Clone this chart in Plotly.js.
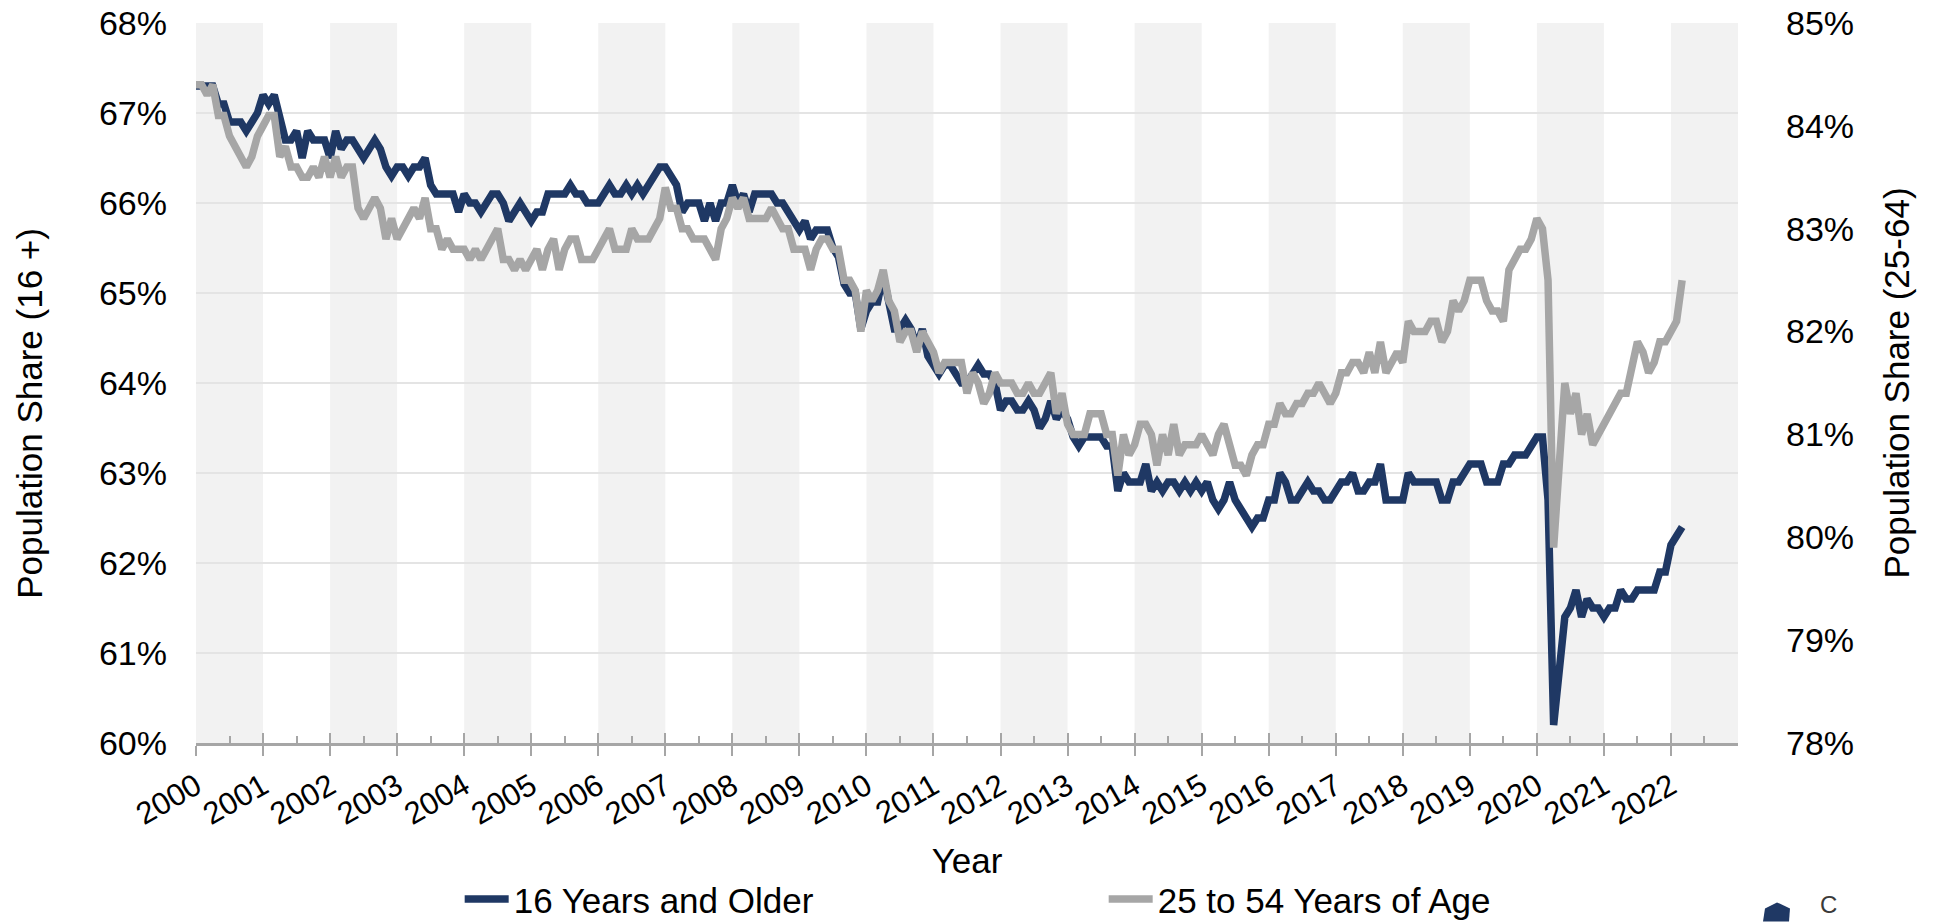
<!DOCTYPE html>
<html><head><meta charset="utf-8">
<script src="https://cdn.plot.ly/plotly-3.0.1.min.js"></script>
<style>html,body{margin:0;padding:0;background:#fff;}#chart{width:1940px;height:922px;}</style>
</head><body><div id="chart"></div>
<script>
// Monthly series, January 2000 through March 2022
const startYear = 2000;
const yearTicks = [2000,2001,2002,2003,2004,2005,2006,2007,2008,2009,2010,2011,2012,2013,2014,2015,2016,2017,2018,2019,2020,2021,2022];
const seriesNames = ["16 Years and Older", "25 to 54 Years of Age"];

const age16Plus = [
  67.3,67.3,67.3,67.3,67.1,67.1,66.9,66.9,66.9,66.8,66.9,67.0,
  67.2,67.1,67.2,66.9,66.7,66.7,66.8,66.5,66.8,66.7,66.7,66.7,
  66.5,66.8,66.6,66.7,66.7,66.6,66.5,66.6,66.7,66.6,66.4,66.3,
  66.4,66.4,66.3,66.4,66.4,66.5,66.2,66.1,66.1,66.1,66.1,65.9,
  66.1,66.0,66.0,65.9,66.0,66.1,66.1,66.0,65.8,65.9,66.0,65.9,
  65.8,65.9,65.9,66.1,66.1,66.1,66.1,66.2,66.1,66.1,66.0,66.0,
  66.0,66.1,66.2,66.1,66.1,66.2,66.1,66.2,66.1,66.2,66.3,66.4,
  66.4,66.3,66.2,65.9,66.0,66.0,66.0,65.8,66.0,65.8,66.0,66.0,
  66.2,66.0,66.1,65.9,66.1,66.1,66.1,66.1,66.0,66.0,65.9,65.8,
  65.7,65.8,65.6,65.7,65.7,65.7,65.5,65.4,65.1,65.0,65.0,64.6,
  64.8,64.9,64.9,65.2,64.9,64.6,64.6,64.7,64.6,64.4,64.6,64.3,
  64.2,64.1,64.2,64.2,64.1,64.0,64.0,64.1,64.2,64.1,64.1,64.0,
  63.7,63.8,63.8,63.7,63.7,63.8,63.7,63.5,63.6,63.8,63.6,63.7,
  63.6,63.4,63.3,63.4,63.4,63.4,63.4,63.3,63.3,62.8,63.0,62.9,
  62.9,62.9,63.1,62.8,62.9,62.8,62.9,62.9,62.8,62.9,62.8,62.9,
  62.8,62.9,62.7,62.6,62.7,62.9,62.7,62.6,62.5,62.4,62.5,62.5,
  62.7,62.7,63.0,62.9,62.7,62.7,62.8,62.9,62.8,62.8,62.7,62.7,
  62.8,62.9,62.9,63.0,62.8,62.8,62.9,62.9,63.1,62.7,62.7,62.7,
  62.7,63.0,62.9,62.9,62.9,62.9,62.9,62.7,62.7,62.9,62.9,63.0,
  63.1,63.1,63.1,62.9,62.9,62.9,63.1,63.1,63.2,63.2,63.2,63.3,
  63.4,63.4,62.7,60.2,60.8,61.4,61.5,61.7,61.4,61.6,61.5,61.5,
  61.4,61.5,61.5,61.7,61.6,61.6,61.7,61.7,61.7,61.7,61.9,61.9,
  62.2,62.3,62.4
];

const age25to54 = [
  84.4,84.4,84.3,84.4,84.1,84.1,83.9,83.8,83.7,83.6,83.7,83.9,
  84.0,84.1,84.1,83.7,83.8,83.6,83.6,83.5,83.5,83.6,83.5,83.7,
  83.5,83.7,83.5,83.6,83.6,83.2,83.1,83.2,83.3,83.2,82.9,83.1,
  82.9,83.0,83.1,83.2,83.1,83.3,83.0,83.0,82.8,82.9,82.8,82.8,
  82.8,82.7,82.8,82.7,82.8,82.9,83.0,82.7,82.7,82.6,82.7,82.6,
  82.7,82.8,82.6,82.8,82.9,82.6,82.8,82.9,82.9,82.7,82.7,82.7,
  82.8,82.9,83.0,82.8,82.8,82.8,83.0,82.9,82.9,82.9,83.0,83.1,
  83.4,83.2,83.2,83.0,83.0,82.9,82.9,82.9,82.8,82.7,83.0,83.1,
  83.3,83.2,83.3,83.1,83.1,83.1,83.1,83.2,83.1,83.0,83.0,82.8,
  82.8,82.8,82.6,82.8,82.9,82.9,82.8,82.8,82.5,82.5,82.4,82.0,
  82.4,82.3,82.4,82.6,82.3,82.2,81.9,82.0,82.0,81.8,82.0,81.9,
  81.8,81.6,81.7,81.7,81.7,81.7,81.4,81.6,81.5,81.3,81.4,81.6,
  81.5,81.5,81.5,81.4,81.4,81.5,81.4,81.4,81.5,81.6,81.2,81.4,
  81.1,81.0,81.0,81.0,81.2,81.2,81.2,81.0,81.0,80.6,81.0,80.8,
  80.9,81.1,81.1,81.0,80.7,81.0,80.8,81.1,80.8,80.9,80.9,80.9,
  81.0,80.9,80.8,81.0,81.1,80.9,80.7,80.7,80.6,80.8,80.9,80.9,
  81.1,81.1,81.3,81.2,81.2,81.3,81.3,81.4,81.4,81.5,81.4,81.3,
  81.4,81.6,81.6,81.7,81.7,81.6,81.8,81.6,81.9,81.6,81.7,81.8,
  81.7,82.1,82.0,82.0,82.0,82.1,82.1,81.9,82.0,82.3,82.2,82.3,
  82.5,82.5,82.5,82.3,82.2,82.2,82.1,82.6,82.7,82.8,82.8,82.9,
  83.1,83.0,82.5,79.9,80.7,81.5,81.2,81.4,81.0,81.2,80.9,81.0,
  81.1,81.2,81.3,81.4,81.4,81.7,81.9,81.8,81.6,81.7,81.9,81.9,
  82.0,82.1,82.5
];

const leftTicks = [60,61,62,63,64,65,66,67,68];
const rightTicks = [78,79,80,81,82,83,84,85];
const leftTitle = "Population Share (16 +)";
const rightTitle = "Population Share (25-64)";
const xTitle = "Year";
const logoText = "C";

const monthX = age16Plus.map((_, i) => startYear + i / 12);
const FONT = "Arial, 'Liberation Sans', sans-serif";
const NAVY = "#1f3864";
const GREY = "#a6a6a6";
const AXIS = "#a6a6a6";
const lastYear = yearTicks[yearTicks.length - 1] + 1;

// layout geometry (pixels)
const W = 1940, H = 922, ML = 196, MR = 202, MT = 23, MB = 178.5;
const PW = W - ML - MR, PH = H - MT - MB;
const px = v => (v - ML) / PW;        // pixel -> paper x (decoration only)
const py = v => (H - MB - v) / PH;    // pixel -> paper y (decoration only)

const bands = yearTicks.filter(y => (y - startYear) % 2 === 0).map(y => ({
  type: "rect", xref: "x", yref: "paper", x0: y, x1: y + 1, y0: 0, y1: 1,
  fillcolor: "#f2f2f2", line: {width: 0}, layer: "below"
}));

// partially visible logo mark at bottom-right corner
const logo = {
  type: "path", xref: "paper", yref: "paper", layer: "above",
  path: `M ${px(1763)},${py(922)} L ${px(1765)},${py(909)} L ${px(1777)},${py(903)} L ${px(1790)},${py(909)} L ${px(1789)},${py(922)} Z`,
  fillcolor: NAVY, line: {width: 0}
};

const traces = [
  {x: monthX, y: age16Plus, name: seriesNames[0], type: "scatter", mode: "lines",
   line: {color: NAVY, width: 7.5}, yaxis: "y"},
  {x: monthX, y: age25to54, name: seriesNames[1], type: "scatter", mode: "lines",
   line: {color: GREY, width: 7.5}, yaxis: "y2"},
  {x: [], y: [], xaxis: "x2", yaxis: "y", showlegend: false, hoverinfo: "skip"}
];

const layout = {
  width: W, height: H,
  margin: {l: ML, r: MR, t: MT, b: MB, autoexpand: false},
  paper_bgcolor: "#ffffff", plot_bgcolor: "#ffffff",
  font: {family: FONT, size: 34, color: "#000000"},
  showlegend: true,
  legend: {orientation: "h", x: 0.171, xanchor: "left", y: -0.217, yanchor: "middle",
           font: {family: FONT, size: 35, color: "#000"}, entrywidth: 585, entrywidthmode: "pixels",
           itemwidth: 44, traceorder: "normal", bgcolor: "rgba(0,0,0,0)"},
  xaxis: {
    type: "linear", range: [startYear, lastYear], tickmode: "array",
    tickvals: yearTicks, ticktext: yearTicks.map(String), tickangle: -30,
    tickfont: {family: FONT, size: 31, color: "#000"},
    ticks: "outside", ticklen: 10, tickwidth: 2, tickcolor: AXIS,
    showline: true, linecolor: AXIS, linewidth: 3, showgrid: false, zeroline: false,
    title: {text: xTitle, font: {family: FONT, size: 35, color: "#000"}, standoff: 18},
    automargin: false, fixedrange: true
  },
  xaxis2: {
    overlaying: "x", matches: "x", anchor: "y", side: "bottom",
    tickmode: "array", tickvals: yearTicks.concat([lastYear]), showticklabels: false,
    ticks: "inside", ticklen: 10, tickwidth: 2, tickcolor: AXIS,
    minor: {tickmode: "array", tickvals: yearTicks.map(y => y + 0.5), ticks: "inside", ticklen: 7, tickwidth: 2, tickcolor: AXIS, showgrid: false},
    showline: false, showgrid: false, zeroline: false, automargin: false
  },
  yaxis: {
    range: [60, 68], tickmode: "array", tickvals: leftTicks, ticktext: leftTicks.map(v => v + "%"),
    tickfont: {family: FONT, size: 34, color: "#000"}, ticks: "", ticklabelstandoff: 28,
    showgrid: true, gridcolor: "#e4e4e4", gridwidth: 1.5, zeroline: false, showline: false,
    automargin: false, fixedrange: true
  },
  yaxis2: {
    overlaying: "y", side: "right", anchor: "x",
    range: [78, 85], tickmode: "array", tickvals: rightTicks, ticktext: rightTicks.map(v => v + "%"),
    tickfont: {family: FONT, size: 34, color: "#000"}, ticks: "", ticklabelstandoff: 47,
    showgrid: false, zeroline: false, showline: false,
    title: {text: rightTitle, font: {family: FONT, size: 35, color: "#000"}, standoff: 31},
    automargin: false, fixedrange: true
  },
  shapes: bands.concat([logo]),
  annotations: [
    {xref: "paper", yref: "paper", x: px(30), y: py(414), xanchor: "center", yanchor: "middle",
     textangle: -90, text: leftTitle, showarrow: false, font: {family: FONT, size: 35, color: "#000"}},
    {xref: "paper", yref: "paper", x: px(1818), y: py(921), xanchor: "left", yanchor: "bottom",
     text: logoText, showarrow: false, font: {family: FONT, size: 24, color: "#3a3a3a"}}
  ]
};

Plotly.newPlot("chart", traces, layout, {displayModeBar: false, staticPlot: true});
</script></body></html>
